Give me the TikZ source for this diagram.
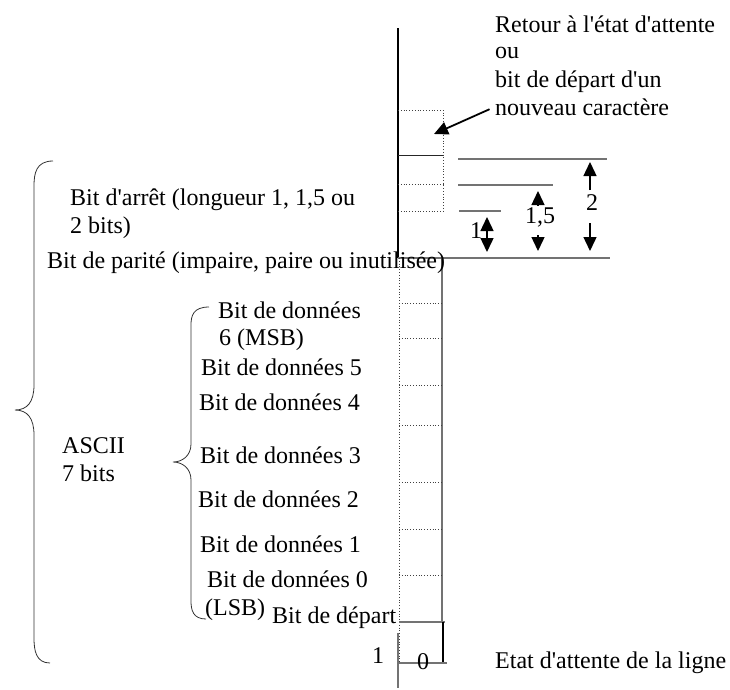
\documentclass[tikz,border=0pt]{standalone}
\usepackage{fontspec}
\setmainfont{Liberation Serif}
\usetikzlibrary{arrows.meta}
\def\q{\textquotesingle}
% word-like curly brace: (top end)(vertical x)(tip)(bottom end){curl}
\def\wordbrace(#1,#2)(#3)(#4,#5)(#6,#7)#8{\draw[bracket] (#1,#2) .. controls (#3+2,#2) and (#3,#2+#8/2) .. (#3,#2+#8) -- (#3,#5-#8) .. controls (#3,#5-#8/3) and (#4+#8/2,#5) .. (#4,#5) .. controls (#4+#8/2,#5) and (#3,#5+#8/3) .. (#3,#5+#8) -- (#3,#7-#8) .. controls (#3,#7-#8/2) and (#3+2,#7) .. (#6,#7);}

\begin{document}
\begin{tikzpicture}[x=1pt,y=-1pt,
    lbl/.style={inner sep=0pt,anchor=base west,font=\fontsize{24}{28}\selectfont},
    bracket/.style={line width=0.8pt,black!80},
    grid/.style={line width=0.8pt,dotted,black!75},
    level/.style={line width=1.2pt,black!55},
    dim/.style={line width=1.4pt,-{Triangle[length=14pt,width=13pt]}},
    twodim/.style={line width=1.4pt,{Triangle[length=14pt,width=13pt]}-{Triangle[length=14pt,width=13pt]}},
    pointer/.style={line width=1.8pt,-{Triangle[length=14pt,width=13pt]}}]
		%%%%% START %%%%%
		\useasboundingbox (0,0) rectangle (730,689);
		
		% axis and stop bits
		\draw[line width=1.2pt] (398,28) -- (398,258);
		\draw[grid] (398,110) -- (443,110) -- (443,211);
		\draw[grid] (398,184) -- (443,184);
		\draw[grid] (398,211) -- (443,211);
		\draw[line width=1pt,black!85] (398,155) -- (443,155);
		\draw[level] (398,258) -- (610,258);
		
		% stop bit lengths
		\draw[level] (458,159) -- (607,159);
		\draw[level] (458,185) -- (553,185);
		\draw[level] (459,211) -- (501,211);
		
		% character bits
		\draw[grid] (399,258) -- (399,663);
		\draw[level] (442,258) -- (442,622);
		\foreach \y in {303,338,385,425,482,529,575}
			\draw[grid] (399,\y) -- (442,\y);
		\draw[level] (399,622) -- (445,622);
		\draw[line width=1.8pt] (443,622) -- (443,663);
		\draw[level] (398,663) -- (447,663);
		\draw[level] (398,633) -- (398,688);
		
		% braces
		\wordbrace(53,161)(34)(15,410)(50,663){25}
		\wordbrace(209,307)(191)(173,462)(206,619){18}
		
		% texts
		\node[lbl] (retoura) at (495,32) {Retour à l\q état d\q attente};
		\node[lbl] (retourb) at (495,58) {ou};
		\node[lbl] (retourc) at (495,87) {bit de départ d\q un};
		\node[lbl] (retourd) at (495,115) {nouveau caractère};
		
		\node[lbl] (arreta) at (70,205) {Bit d\q arrêt (longueur 1, 1,5 ou};
		\node[lbl] (arretb) at (70,233) {2 bits)};
		\node[lbl] (parite) at (47,268) {Bit de parité (impaire, paire ou inutilisée)};
		
		\node[lbl] (dsixa) at (218,318) {Bit de données};
		\node[lbl] (dsixb) at (219,345) {6 (MSB)};
		\node[lbl] (dcinq) at (201,375) {Bit de données 5};
		\node[lbl] (dquatre) at (199,410) {Bit de données 4};
		\node[lbl] (dtrois) at (200,463) {Bit de données 3};
		\node[lbl] (ddeux) at (198,507) {Bit de données 2};
		\node[lbl] (dun) at (200,552) {Bit de données 1};
		\node[lbl] (dzeroa) at (207,587) {Bit de données 0};
		\node[lbl] (dzerob) at (205,615) {(LSB)};
		\node[lbl] (depart) at (272,623) {Bit de départ};
		
		\node[lbl] (asciia) at (62,453) {ASCII};
		\node[lbl] (asciib) at (62,481) {7 bits};
		
		\node[lbl] (un) at (372,663) {1};
		\node[lbl] (zero) at (417,669) {0};
		\node[lbl] (etat) at (495,668) {Etat d\q attente de la ligne};
		
		% stop bit arrows
		\coordinate (unhaut) at (487,217);
		\coordinate (unbas) at (487,252);
		\coordinate (demihaut) at (538,191);
		\coordinate (demibas) at (538,251);
		\coordinate (deuxhaut) at (590,162);
		\coordinate (deuxbas) at (590,251);
		\draw[twodim] (unhaut) -- (unbas);
		\node[lbl,anchor=base] (lun) at (476,238) {1};
		\draw[dim] (538,205) -- (demihaut);
		\draw[dim] (538,235) -- (demibas);
		\node[lbl,anchor=base] (lundemi) at (540,223) {1,5};
		\draw[dim] (590,190) -- (deuxhaut);
		\draw[dim] (590,223) -- (deuxbas);
		\node[lbl,anchor=base] (ldeux) at (592,210) {2};
		
		\coordinate (attente) at (434,134);
		\draw[pointer,shorten <=6pt] (retourd.west) -- (attente);
		
		%%%%% END %%%%%
\end{tikzpicture}
\end{document}
